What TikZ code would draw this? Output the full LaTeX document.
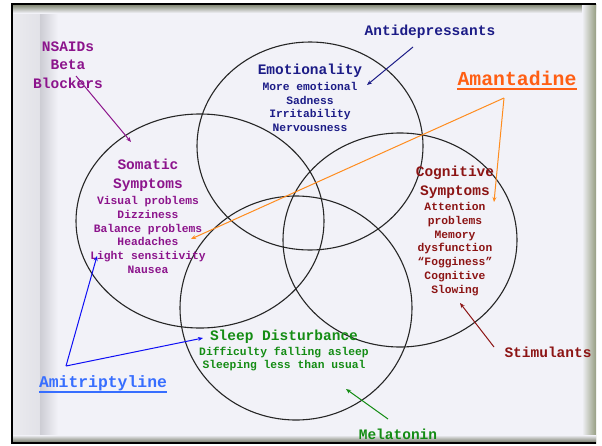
\documentclass[tikz,border=0pt]{standalone}
\usepackage{fontspec}
\setmonofont{Liberation Mono}
\usepackage{tikz}
\usetikzlibrary{arrows.meta,positioning}

\definecolor{pagebg}{RGB}{242,242,248}
\definecolor{curlgray}{RGB}{226,226,232}
\definecolor{foldgray}{RGB}{205,205,212}
\definecolor{olive}{RGB}{150,158,130}
\definecolor{emonavy}{RGB}{28,28,135}
\definecolor{somapurple}{RGB}{140,20,140}
\definecolor{cogred}{RGB}{140,20,20}
\definecolor{sleepgreen}{RGB}{20,140,20}
\definecolor{amantorange}{RGB}{255,95,20}
\definecolor{amantline}{RGB}{255,140,30}
\definecolor{amitblue}{RGB}{55,110,255}
\definecolor{amitline}{RGB}{15,15,245}

\tikzset{
  head/.style={font=\ttfamily\bfseries\fontsize{14.5}{18.5}\selectfont, align=center, inner sep=0pt},
  body/.style={font=\ttfamily\bfseries\fontsize{11.3}{13.9}\selectfont, align=center, inner sep=0pt},
  ring/.style={black!85, line width=1.1pt},
  drug/.style={line width=1pt, -{Stealth[length=5pt,width=4pt]}},
}

\begin{document}
\begin{tikzpicture}[x=1pt,y=-1pt]
    \useasboundingbox (0,0) rectangle (602,445);

    % page
    \fill[white] (0,0) rectangle (602,445);
    \fill[pagebg] (12,4) rectangle (596,443);
    \shade[left color=curlgray!70!white, right color=curlgray] (12,4) rectangle (40,443);
    \shade[left color=foldgray, right color=pagebg] (40,4) rectangle (58,443);
    \shade[top color=olive!80!black, bottom color=pagebg] (12,4) rectangle (596,13);
    \shade[left color=pagebg, right color=olive] (582,4) rectangle (596,443);
    \shade[top color=pagebg, bottom color=olive!70!black] (12,435) rectangle (596,443);
    \draw[line width=2.5pt] (596,4) -- (12,4) -- (12,443) -- (596,443);

    % the four rings
    \draw[ring] (310,146) ellipse [x radius=113pt, y radius=104pt];
    \draw[ring] (200,221) ellipse [x radius=124pt, y radius=107pt];
    \draw[ring] (400,240) ellipse [x radius=117pt, y radius=107pt];
    \draw[ring] (296,308) ellipse [x radius=116pt, y radius=112pt];

    % symptom groups
    \node[head, emonavy] (emo) at (310,71) {Emotionality};
    \node[body, emonavy] (emolist) at (310,107) {More emotional\\Sadness\\Irritability\\Nervousness};

    \node[head, somapurple] (soma) at (148,175) {Somatic\\Symptoms};
    \node[body, somapurple] (somalist) at (148,235) {Visual problems\\Dizziness\\Balance problems\\Headaches\\Light sensitivity\\Nausea};

    \node[head, cogred] (cog) at (455,182) {Cognitive\\Symptoms};
    \node[body, cogred] (coglist) at (455,249) {Attention\\problems\\Memory\\dysfunction\\“Fogginess”\\Cognitive\\Slowing};

    \node[head, sleepgreen] (sleep) at (284,337) {Sleep Disturbance};
    \node[body, sleepgreen] (sleeplist) at (284,359) {Difficulty falling asleep\\Sleeping less than usual};

    % treatments
    \node[head, somapurple] (nsaid) at (68,65) {NSAIDs\\Beta\\Blockers};
    \node[head, emonavy] (anti) at (430,32) {Antidepressants};
    \node[head, amantorange, font=\ttfamily\bfseries\fontsize{19.8}{22}\selectfont] (amant) at (517,78) {Amantadine};
    \node[head, cogred] (stim) at (548,352) {Stimulants};
    \node[head, sleepgreen] (mela) at (398,434) {Melatonin};
    \node[head, amitblue, font=\ttfamily\bfseries\fontsize{16.4}{18}\selectfont] (amit) at (103,383) {Amitriptyline};

    \draw[amantorange, line width=1.6pt] ([yshift=-4pt]amant.base west) -- ([yshift=-4pt]amant.base east);
    \draw[amitblue, line width=1.6pt] ([yshift=-4.5pt]amit.base west) -- ([yshift=-4.5pt]amit.base east);

    % arrow ends
    \coordinate (nsaidTail) at (76,76);
    \coordinate (nsaidTip) at (131,142);
    \coordinate (antiTail) at (413,47);
    \coordinate (antiTip) at (367,85);
    \coordinate (amantTail) at (504,98);
    \coordinate (amantTipA) at (191,239);
    \coordinate (amantTipB) at (494,202);
    \coordinate (amitTail) at (66,366);
    \coordinate (amitTipA) at (97,256);
    \coordinate (amitTipB) at (203,338);
    \coordinate (stimTail) at (494,347);
    \coordinate (stimTip) at (460,303);
    \coordinate (melaTail) at (388,419);
    \coordinate (melaTip) at (346,389);

    \draw[drug, somapurple] (nsaidTail) -- (nsaidTip);
    \draw[drug, emonavy] (antiTail) -- (antiTip);
    \draw[drug, amantline] (amantTail) -- (amantTipA);
    \draw[drug, amantline] (amantTail) -- (amantTipB);
    \draw[drug, amitline] (amitTail) -- (amitTipA);
    \draw[drug, amitline] (amitTail) -- (amitTipB);
    \draw[drug, cogred] (stimTail) -- (stimTip);
    \draw[drug, sleepgreen] (melaTail) -- (melaTip);
\end{tikzpicture}
\end{document}
